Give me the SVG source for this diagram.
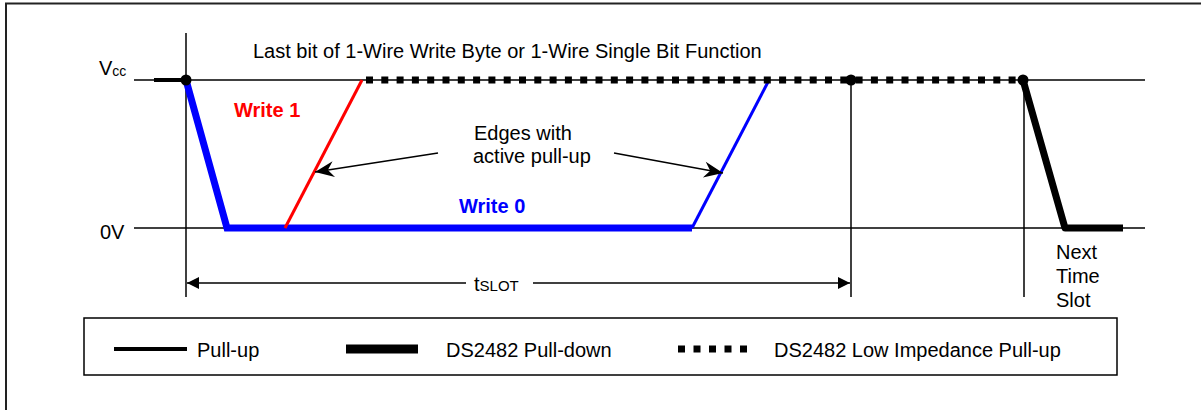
<svg xmlns="http://www.w3.org/2000/svg" width="1201" height="410" viewBox="0 0 1201 410">
<style>
text { font-family: "Liberation Sans", Arial, Helvetica, sans-serif; font-size: 20px; fill: #000; }
.bold { font-weight: bold; }
.red { fill: #ff0000; }
.blue { fill: #0000ff; }
.sub { font-size: 14px; }
.ax { stroke: #000; stroke-width: 1.5; fill: none; }
.pu { stroke: #000; stroke-width: 4; fill: none; }
.pd { stroke: #000; stroke-width: 7; fill: none; stroke-linejoin: round; }
.lowz { stroke: #000; stroke-width: 7; stroke-dasharray: 7 8.3; fill: none; }
.arrow { stroke: #000; stroke-width: 1.5; fill: none; }
</style>
<defs>
<marker id="tri" markerUnits="userSpaceOnUse" markerWidth="14" markerHeight="14" viewBox="-13 -7 14 14" refX="0" refY="0" orient="auto">
<path d="M0,0 L-12,-6 L-12,6 Z" fill="#000"/>
</marker>
<marker id="stealth" markerUnits="userSpaceOnUse" markerWidth="22" markerHeight="20" viewBox="-20 -10 22 20" refX="0" refY="0" orient="auto">
<path d="M0,0 L-19,-8 L-13,0 L-19,8 Z" fill="#000"/>
</marker>
</defs>

<g id="frame">
<rect x="6" y="3.5" width="1400" height="600" fill="none" stroke="#222" stroke-width="2"/>
</g>

<g id="axes">
<line class="ax" x1="134" y1="80" x2="1145" y2="80"/>
<line class="ax" x1="134" y1="228" x2="1145" y2="228"/>
<line class="ax" x1="186" y1="33" x2="186" y2="297"/>
<line class="ax" x1="851" y1="80" x2="851" y2="297"/>
<line class="ax" x1="1024" y1="80" x2="1024" y2="297"/>
</g>

<g id="signals">
<line class="pu" x1="154" y1="80" x2="186" y2="80"/>
<polyline points="186,80 227,228 692,228" fill="none" stroke="#0000ff" stroke-width="7" stroke-linejoin="miter"/>
<line x1="692" y1="228" x2="768" y2="82" stroke="#0000ff" stroke-width="3"/>
<line x1="285" y1="228" x2="362" y2="80" stroke="#ff0000" stroke-width="3"/>
<line class="lowz" x1="366" y1="80" x2="1023" y2="80"/>
<polyline class="pd" points="1023,80 1065,228 1123,228"/>
<circle cx="186" cy="80" r="5.5" fill="#000"/>
<circle cx="851" cy="80" r="5.5" fill="#000"/>
<circle cx="1023" cy="80" r="5.5" fill="#000"/>
</g>

<g id="connectors">
<line class="arrow" x1="466" y1="283" x2="187" y2="283" marker-end="url(#tri)"/>
<line class="arrow" x1="533" y1="283" x2="850" y2="283" marker-end="url(#tri)"/>
<line class="arrow" x1="438" y1="153" x2="315" y2="172" marker-end="url(#stealth)"/>
<line class="arrow" x1="614" y1="153" x2="723" y2="173" marker-end="url(#stealth)"/>
</g>

<g id="labels">
<text x="99" y="75">V<tspan class="sub" font-size="13" dy="1">cc</tspan></text>
<text x="100" y="239">0V</text>
<text x="253" y="58">Last bit of 1-Wire Write Byte or 1-Wire Single Bit Function</text>
<text class="bold red" x="234" y="117">Write 1</text>
<text class="bold blue" x="459" y="213">Write 0</text>
<text x="474" y="140">Edges with</text>
<text x="473" y="163">active pull-up</text>
<text x="474" y="291">t<tspan font-size="15">SLOT</tspan></text>
<text x="1056" y="259">Next</text>
<text x="1056" y="283">Time</text>
<text x="1056" y="307">Slot</text>
</g>

<g id="legend">
<rect x="84" y="318" width="1033" height="57" fill="#fff" stroke="#000" stroke-width="1.5"/>
<line class="pu" x1="114" y1="349" x2="187" y2="349"/>
<text x="197" y="357">Pull-up</text>
<line x1="346" y1="349" x2="418" y2="349" stroke="#000" stroke-width="9"/>
<text x="446" y="357">DS2482 Pull-down</text>
<line x1="678" y1="349" x2="747" y2="349" stroke="#000" stroke-width="7" stroke-dasharray="7 8.5"/>
<text x="774" y="357">DS2482 Low Impedance Pull-up</text>
</g>
</svg>
